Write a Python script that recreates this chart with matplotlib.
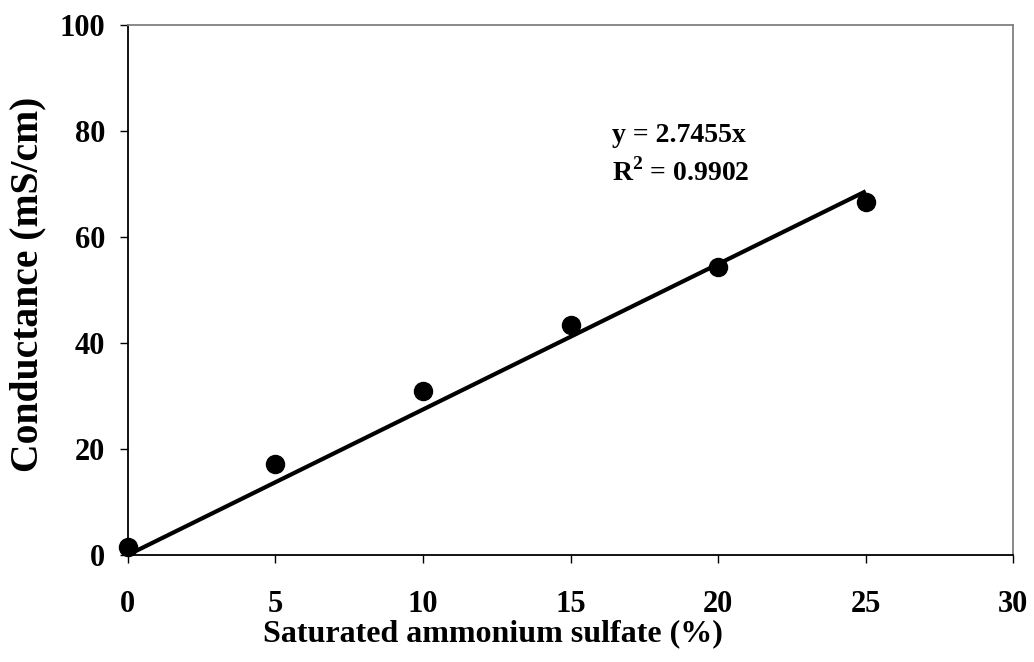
import numpy as np
import matplotlib
matplotlib.use("Agg")
import matplotlib.pyplot as plt

# conductance of saturated ammonium sulfate dilutions
saturation_pct = [0, 5, 10, 15, 20, 25]
conductance = [1.6, 17.2, 30.9, 43.4, 54.4, 66.7]
slope = 2.7455
r_squared = 0.9902

x_ticks = [0, 5, 10, 15, 20, 25, 30]
y_ticks = [0, 20, 40, 60, 80, 100]

plt.rcParams["font.family"] = ["Liberation Serif", "DejaVu Serif"]
plt.rcParams["font.weight"] = "bold"
plt.rcParams["mathtext.fontset"] = "custom"
plt.rcParams["mathtext.rm"] = "Liberation Serif:bold"
plt.rcParams["mathtext.bf"] = "Liberation Serif:bold"

fig = plt.figure(figsize=(10.34, 6.62), dpi=100)
ax = fig.add_axes([0.1235, 0.1616, 0.8565, 0.8005])

fit_x = np.array([0, saturation_pct[-1]])
ax.plot(fit_x, slope * fit_x, color="black", lw=3, solid_capstyle="butt", zorder=2)
ax.plot(saturation_pct, conductance, "o", color="black", ms=13, zorder=3, clip_on=False)

ax.set_xlim(0, 30)
ax.set_ylim(0, 100)
ax.set_xticks(x_ticks)
ax.set_yticks(y_ticks)
ax.tick_params(direction="out", length=6, width=1, labelsize=22)
ax.tick_params(axis="x", pad=19)
ax.tick_params(axis="y", pad=10)
for lab in ax.get_xticklabels() + ax.get_yticklabels():
    lab.set_fontweight("bold")

for side in ("left", "bottom"):
    ax.spines[side].set_linewidth(1.3)
    ax.spines[side].set_color("black")
for side in ("top", "right"):
    ax.spines[side].set_linewidth(1.3)
    ax.spines[side].set_color("#808080")

ax.set_xlabel("Saturated ammonium sulfate (%)", fontsize=23, fontweight="bold")
ax.xaxis.set_label_coords(0.412, -0.121)
ax.set_ylabel("Conductance (mS/cm)", fontsize=28.5, fontweight="bold")
ax.yaxis.set_label_coords(-0.092, 0.511)

ax.text(16.4, 79.2, f"y = {slope}x", fontsize=20, fontweight="bold", ha="left", va="center")
ax.text(16.4, 72.2, r"R$^{\mathbf{2}}$" + f" = {r_squared}", fontsize=20, fontweight="bold",
        ha="left", va="center")

fig.savefig("out.png", dpi=100)
